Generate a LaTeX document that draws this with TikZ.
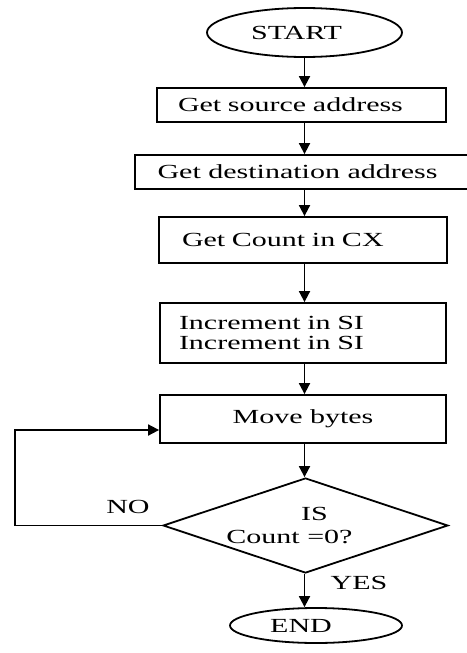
\documentclass[tikz,border=0pt]{standalone}
\usepackage{fontspec}
\setmainfont{Liberation Serif}[FakeStretch=1.5]
\usetikzlibrary{shapes.geometric,arrows.meta}
\begin{document}
\begin{tikzpicture}[x=1pt,y=-1pt,
  txt/.style={font=\fontsize{20}{20}\selectfont, inner sep=0pt},
  base/.style={txt, draw, line width=1.8pt},
  procbox/.style={base, rectangle},
  term/.style={base, ellipse},
  decision/.style={base, diamond, align=center, aspect=3},
  arr/.style={line width=1.8pt, -{Triangle[length=11pt,width=11pt]}}]
\useasboundingbox (0,0) rectangle (466,653);
\fill[white] (0,0) rectangle (466,653);

\node[term, minimum width=195pt, minimum height=49pt] (start) at (304.5,32.5) {START\hspace*{16pt}};
\node[procbox, minimum height=34pt, inner xsep=21pt, text width=247pt, align=left] (src) at (301.5,105) {Get source address};
\node[procbox, minimum width=335pt, minimum height=34pt, align=center] (dst) at (302.5,172) {Get destination address\hspace*{10pt}};
\node[procbox, minimum height=46pt, inner xsep=23pt, text width=242pt, align=left] (cnt) at (303,240) {Get Count in CX};
\node[procbox, minimum height=60pt, inner xsep=19pt, text width=248pt, align=left] (inc) at (303,333) {Increment in SI\\Increment in SI};
\node[procbox, minimum width=286pt, minimum height=48pt] (move) at (303,419) {Move bytes};
\node[decision, minimum width=285pt, minimum height=95pt] (dia) at (305.5,525.5) {\hspace*{18pt}IS\\[3pt]Count =0?\hspace*{32pt}};
\node[term, minimum width=172pt, minimum height=35pt] (end) at (316,625.5) {END\hspace*{30pt}};

\node[txt] (no) at (128,507) {NO};
\node[txt] (yes) at (359,583) {YES};

\draw[arr] (start.south) -- (start.south |- src.north);
\draw[arr] (src.south -| start) -- (dst.north -| start);
\draw[arr] (dst.south -| start) -- (cnt.north -| start);
\draw[arr] (cnt.south -| start) -- (inc.north -| start);
\draw[arr] (inc.south -| start) -- (move.north -| start);
\draw[arr] (move.south -| start) -- (dia.north -| start);
\draw[arr] (dia.south -| start) -- (end.north -| start);

\coordinate (lp) at (15,525.5);
\draw[arr] (dia.west) -- (lp) |- ([yshift=-11pt]move.west);
\end{tikzpicture}
\end{document}
